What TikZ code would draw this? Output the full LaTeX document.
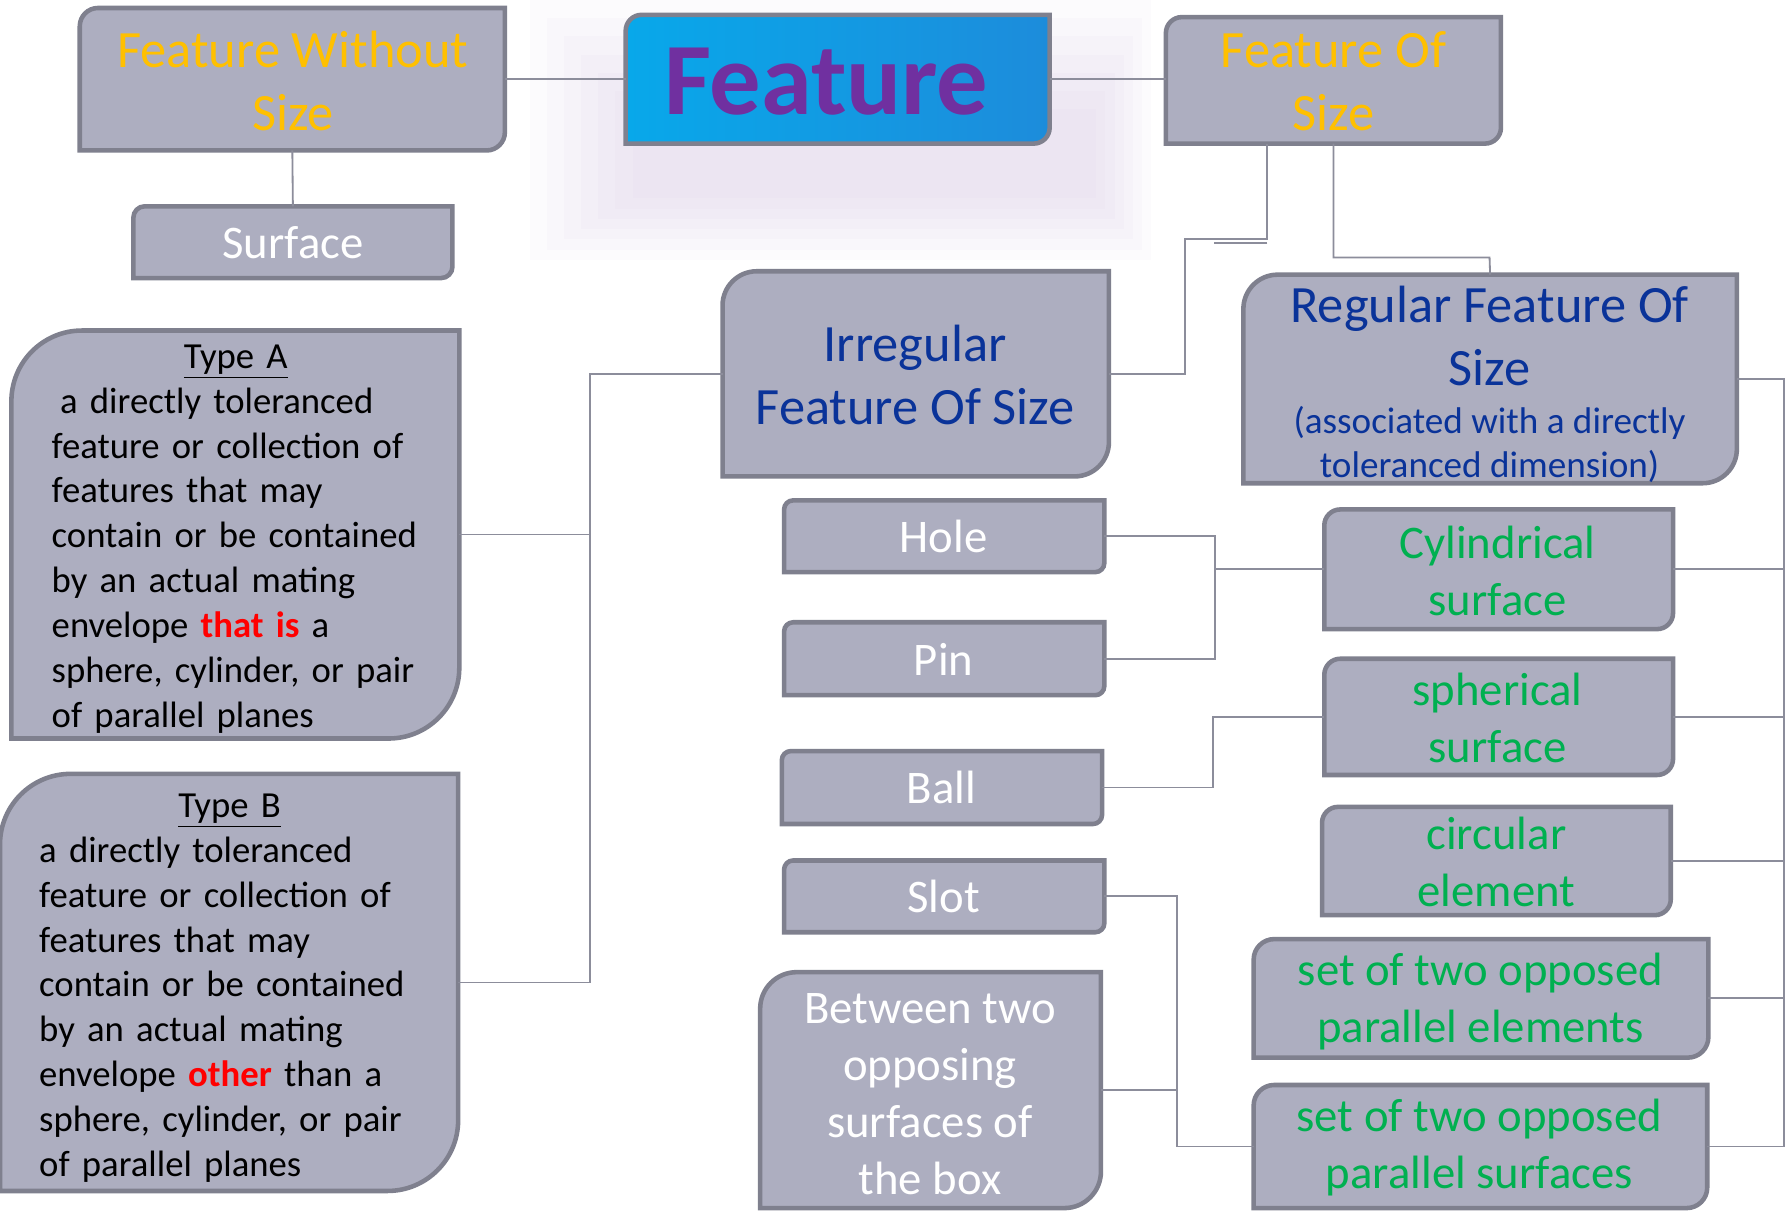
\documentclass[tikz,border=0pt]{standalone}
\usepackage{fontspec}
\setmainfont{Carlito}
\usetikzlibrary{calc}

\definecolor{boxfill}{HTML}{ADAEC0}
\definecolor{boxline}{HTML}{7F808E}
\definecolor{wireclr}{HTML}{8C8D9B}
\definecolor{gold}{HTML}{FFC000}
\definecolor{navy}{HTML}{0A3399}
\definecolor{leaf}{HTML}{00B050}
\definecolor{plum}{HTML}{7030A0}
\definecolor{skyA}{HTML}{08A8EA}
\definecolor{skyB}{HTML}{1D8CDB}
\definecolor{haze}{HTML}{C4A8DC}

% card with rounded top-left and bottom-right corners
% #1 fill style, #2 name, #3 x1, #4 y1, #5 x2, #6 y2, #7 corner radius
\newcommand\roundcard[7][fill=boxfill]{%
  \path[draw=boxline, line width=2pt, #1]
    (#3,#6) -- ([yshift=-#7*0.5pt]#3,#4)
    arc[start angle=180, end angle=90, radius=#7*0.5pt]
    -- (#5,#4) -- ([yshift=#7*0.5pt]#5,#6)
    arc[start angle=0, end angle=-90, radius=#7*0.5pt] -- cycle;
  \node[minimum width={(#5-#3)*0.5pt}, minimum height={(#6-#4)*0.5pt},
        inner sep=0pt, outer sep=0pt] (#2) at ({(#3+#5)/2},{(#4+#6)/2}) {};%
}

\tikzset{
  wire/.style={draw=wireclr, line width=0.8pt},
  hdr/.style={font=\fontsize{23pt}{27.5pt}\selectfont, align=center, inner sep=0pt},
  lbl/.style={font=\fontsize{20.5pt}{25pt}\selectfont, align=center, inner sep=0pt},
  sub/.style={font=\fontsize{16.3pt}{19pt}\selectfont, align=center, inner sep=0pt, text=navy},
  desc/.style={font=\fontsize{16.1pt}{19.7pt}\selectfont, align=left, inner sep=0pt,
               text=black, text width=200pt, anchor=west},
}

\begin{document}
\begin{tikzpicture}[x=0.5pt,y=-0.5pt]
\useasboundingbox[fill=white] (0,0) rectangle (1568,1062);

% soft glow around the title card, built from nested translucent layers
\foreach \k in {0,...,6}{
  \fill[haze, opacity=0.045]
    ({465+\k*15},{0+\k*16}) rectangle ({1010-\k*8},{228-\k*9});
}

% cards
\roundcard{fws}{70}{7}{443}{132}{16}
\roundcard{surface}{117}{181}{397}{244}{10}
\roundcard[left color=skyA, right color=skyB]{feature}{549}{13}{921}{126}{14}
\roundcard{fos}{1023}{15}{1317}{126}{14}
\roundcard{irreg}{634}{238}{973}{418}{30}
\roundcard{reg}{1091}{241}{1524}{424}{30}
\roundcard{typeA}{10}{290}{403}{648}{62}
\roundcard{typeB}{0}{679}{402}{1045}{62}
\roundcard{hole}{688}{439}{969}{502}{8}
\roundcard{pin}{688}{546}{969}{610}{8}
\roundcard{ball}{686}{659}{967}{723}{8}
\roundcard{slot}{688}{755}{969}{818}{8}
\roundcard{between}{667}{853}{966}{1060}{32}
\roundcard{cyl}{1162}{447}{1468}{552}{14}
\roundcard{sph}{1162}{578}{1468}{680}{14}
\roundcard{circ}{1160}{708}{1466}{803}{14}
\roundcard{setel}{1100}{824}{1499}{928}{18}
\roundcard{setsf}{1100}{952}{1498}{1060}{18}

% junction columns
\coordinate (busL) at (518,0);
\coordinate (busR) at (1565,0);
\coordinate (jHP) at (1066,0);
\coordinate (jB) at (1064,0);
\coordinate (jS) at (1033,0);
\coordinate (fosL) at (1112,126);
\coordinate (stubA) at (1112,213);
\coordinate (stubB) at (1065,213);

% connectors
\draw[wire] (fws.east) -- (fws.east -| feature.west);
\draw[wire] (feature.east) -- (feature.east -| fos.west);
\draw[wire] (fws.south) -- (surface.north);
\draw[wire] (fosL) |- (1040,210) |- (irreg.east);
\draw[wire] (stubA) -- (stubB);
\draw[wire] (fos.south) |- (1307,226) -- (reg.north);
\draw[wire] (irreg.west) -| (busL |- typeB.east) -- (typeB.east);
\draw[wire] (typeA.east) -- (typeA.east -| busL);
\draw[wire] (reg.east) -| (busR |- setsf.east) -- (setsf.east);
\draw[wire] (cyl.east) -- (cyl.east -| busR);
\draw[wire] (sph.east) -- (sph.east -| busR);
\draw[wire] (circ.east) -- (circ.east -| busR);
\draw[wire] (setel.east) -- (setel.east -| busR);
\draw[wire] (hole.east) -| (jHP |- pin.east) -- (pin.east);
\draw[wire] (cyl.west) -- (cyl.west -| jHP);
\draw[wire] (ball.east) -- (ball.east -| jB) |- (sph.west);
\draw[wire] (slot.east) -| (jS |- setsf.west) -- (setsf.west);
\draw[wire] (between.east) -- (between.east -| jS);

% texts
\node[font=\fontsize{45pt}{54pt}\selectfont\bfseries, text=plum, inner sep=0pt] (feature-t) at (725,72) {Feature};
\node[hdr, text=gold] (fws-t) at (257,71) {Feature Without\\Size};
\node[hdr, text=gold] (fos-t) at (1170,71) {Feature Of\\Size};
\node[lbl, text=white] (surface-t) at (257,213) {Surface};
\node[hdr, text=navy] (irreg-t) at (803,329) {Irregular\\Feature Of Size};
\node[hdr, text=navy] (reg-t) at (1307,295) {Regular Feature Of\\Size};
\node[sub] (reg-s) at (1307,390) {(associated with a directly\\toleranced dimension)};

\node[desc] (typeA-t) at (45,473) {%
  \makebox[161.5pt]{\underline{Type A}}\\
  \hspace*{0.23em}a directly toleranced\\
  feature or collection of\\
  features that may\\
  contain or be contained\\
  by an actual mating\\
  envelope \textcolor{red}{\textbf{that is}} a\\
  sphere, cylinder, or pair\\
  of parallel planes};
\node[desc] (typeB-t) at (34,867) {%
  \makebox[167pt]{\underline{Type B}}\\
  a directly toleranced\\
  feature or collection of\\
  features that may\\
  contain or be contained\\
  by an actual mating\\
  envelope \textcolor{red}{\textbf{other}} than a\\
  sphere, cylinder, or pair\\
  of parallel planes};

\node[lbl, text=white] (hole-t) at (828,471) {Hole};
\node[lbl, text=white] (pin-t) at (828,579) {Pin};
\node[lbl, text=white] (ball-t) at (826,691) {Ball};
\node[lbl, text=white] (slot-t) at (828,787) {Slot};
\node[lbl, text=white] (between-t) at (816,960) {Between two\\opposing\\surfaces of\\the box};

\node[lbl, text=leaf] (cyl-t) at (1314,501) {Cylindrical\\surface};
\node[lbl, text=leaf] (sph-t) at (1314,630) {spherical\\surface};
\node[lbl, text=leaf] (circ-t) at (1313,756) {circular\\element};
\node[lbl, text=leaf] (setel-t) at (1299,879) {set of two opposed\\parallel elements};
\node[lbl, text=leaf] (setsf-t) at (1298,1007) {set of two opposed\\parallel surfaces};
\end{tikzpicture}
\end{document}
